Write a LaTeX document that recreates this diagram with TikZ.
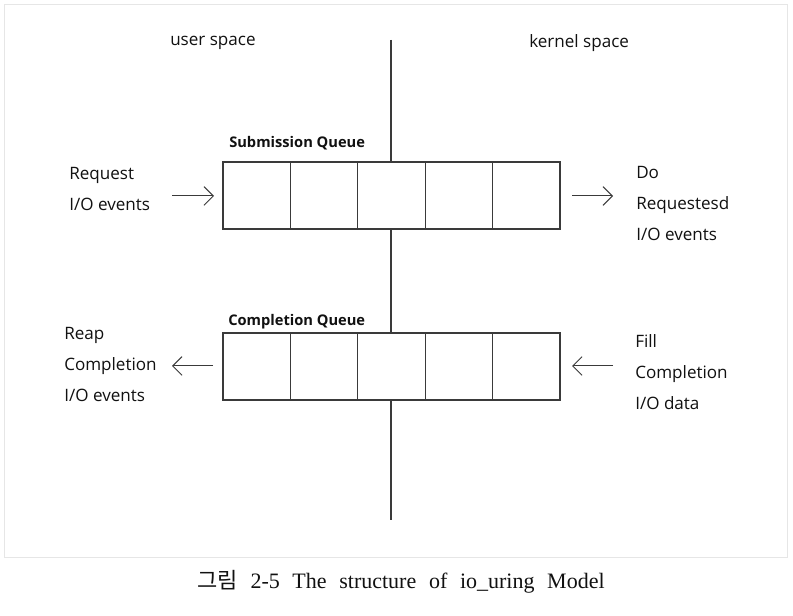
\documentclass[tikz,border=0pt]{standalone}
\usepackage{fontspec}
\setmainfont{Open Sans}
\newfontfamily\capfont{Liberation Serif}
\newfontfamily\krfont{Noto Sans CJK KR}
\usetikzlibrary{arrows.meta}
\definecolor{linec}{HTML}{3A3A3A}
\definecolor{framec}{HTML}{E6E6E6}
\definecolor{textc}{HTML}{111111}
\begin{document}
\begin{tikzpicture}[x=0.75pt,y=-0.75pt,
  cell/.style={draw=linec,line width=0.8pt,fill=white,minimum width=50.55pt,minimum height=50.25pt,inner sep=0pt,outer sep=0pt},
  lbl/.style={anchor=base west,inner sep=0pt,text=textc,font=\fontsize{12.8}{14}\selectfont},
  qlbl/.style={anchor=base west,inner sep=0pt,text=textc,font=\fontsize{11}{13}\selectfont\bfseries},
  arr/.style={draw=linec,line width=0.75pt,-{Straight Barb[length=7pt,width=14pt,line width=0.75pt]}},
  vline/.style={draw=linec,line width=0.8pt}]
\useasboundingbox (0,0) rectangle (793,616);
\fill[white] (0,0) rectangle (793,616);
\draw[framec,line width=0.8pt] (4.5,4.5) rectangle (787.5,557.5);
% divider
\coordinate (vtop) at (391,40);
\coordinate (vbot) at (391,520);
\draw[vline] (vtop) -- (vbot);
% headings
\node[lbl] (user) at (170,46) {user space};
\node[lbl] (kernel) at (529,48) {kernel space};
% queues
\foreach \i in {1,...,5}{
  \node[cell] (sq\i) at ({223+33.7+(\i-1)*67.4},195.5) {};
  \node[cell] (cq\i) at ({223+33.7+(\i-1)*67.4},366.5) {};
}
\node[qlbl] (sqlabel) at (229,148) {Submission Queue};
\node[qlbl] (cqlabel) at (228,326) {Completion Queue};
% left top
\node[lbl] (req1) at (69,180) {Request};
\node[lbl] (req2) at (69,211) {I/O events};
% right top
\node[lbl] (do1) at (636,179) {Do};
\node[lbl] (do2) at (636,210) {Requestesd};
\node[lbl] (do3) at (636,241) {I/O events};
% left bottom
\node[lbl] (reap1) at (64,340) {Reap};
\node[lbl] (reap2) at (64,371) {Completion};
\node[lbl] (reap3) at (64,402) {I/O events};
% right bottom
\node[lbl] (fill1) at (635,348) {Fill};
\node[lbl] (fill2) at (635,379) {Completion};
\node[lbl] (fill3) at (635,410) {I/O data};
% arrows
\coordinate (a1s) at (172,196); \coordinate (a1e) at (214,196);
\coordinate (a2s) at (572,196); \coordinate (a2e) at (613,196);
\coordinate (a3s) at (213,366); \coordinate (a3e) at (172,366);
\coordinate (a4s) at (613,366); \coordinate (a4e) at (572,366);
\draw[arr] (a1s) -- (a1e);
\draw[arr] (a2s) -- (a2e);
\draw[arr] (a3s) -- (a3e);
\draw[arr] (a4s) -- (a4e);
% caption
\node[anchor=base,inner sep=0pt,text=textc,font=\fontsize{16.5}{20}\selectfont] (cap) at (401,588) {\spaceskip=9.5pt plus 0pt minus 0pt\xspaceskip=9.5pt{\krfont 그림}\hspace{9.5pt}\capfont 2-5 The structure of io\_uring Model};
\end{tikzpicture}
\end{document}
